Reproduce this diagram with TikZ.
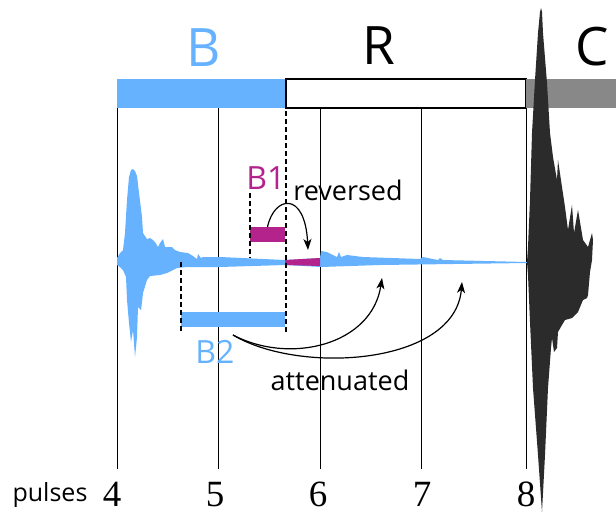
\documentclass[tikz,border=0pt]{standalone}
\usepackage{fontspec}
\setmainfont{Open Sans}
\newfontfamily\numfont{Liberation Serif}
\usetikzlibrary{arrows.meta}
\definecolor{bblue}{RGB}{102,178,255}
\definecolor{bmag}{RGB}{180,35,140}
\definecolor{cgray}{RGB}{136,136,136}
\definecolor{cdark}{RGB}{43,43,43}

\begin{document}
\begin{tikzpicture}[x=1pt, y=-1pt]
        \tikzstyle{bar} = [inner sep=0pt, outer sep=0pt, anchor=north west, minimum height=29pt]
        \tikzstyle{seg} = [inner sep=0pt, outer sep=0pt, anchor=north west, minimum height=15pt]
        \tikzstyle{big} = [font=\fontsize{53}{53}\selectfont, inner sep=0pt]
        \tikzstyle{sub} = [font=\fontsize{32}{32}\selectfont, inner sep=0pt]
        \tikzstyle{lbl} = [font=\fontsize{27}{27}\selectfont, inner sep=0pt]
        \tikzstyle{num} = [font=\numfont\fontsize{37}{37}\selectfont, anchor=base, inner sep=0pt]
        \tikzstyle{guide} = [dash pattern=on 5pt off 3pt, line width=1.2pt]
        \tikzstyle{curved} = [->, >={Stealth[length=11pt, width=8pt, inset=3pt]}, line width=1.2pt]
        \useasboundingbox (0,0) rectangle (616,515);
        % top bar
        \node[bar, fill=bblue, minimum width=169pt] (bbar) at (117,79) {};
        \node[bar, draw, line width=1.2pt, minimum width=240pt] (rbar) at (286,79) {};
        \node[bar, fill=cgray, minimum width=90pt] (cbar) at (526,79) {};
        \node[big, text=bblue] (blab) at (204,48) {B};
        \node[big] (rlab) at (379,46) {R};
        \node[big] (clab) at (592,47) {C};
        % pulse axis
        \node[lbl, font=\fontsize{25}{25}\selectfont] (pulses) at (50,495) {pulses};
        \node[num] (p4) at (112,506) {4};
        \node[num] (p5) at (215,506) {5};
        \node[num] (p6) at (318,506) {6};
        \node[num] (p7) at (422,506) {7};
        \node[num] (p8) at (526,506) {8};
        \coordinate (t4) at (117,469);
        \coordinate (t5) at (218,469);
        \coordinate (t6) at (320,469);
        \coordinate (t7) at (421,469);
        \coordinate (t8) at (526,469);
        \draw[line width=0.9pt] (t4 |- bbar.south) -- (t4);
        \draw[line width=0.9pt] (t5 |- bbar.south) -- (t5);
        \draw[line width=0.9pt] (t6 |- bbar.south) -- (t6);
        \draw[line width=0.9pt] (t7 |- bbar.south) -- (t7);
        \draw[line width=0.9pt] (t8 |- bbar.south) -- (t8);
        % waveforms
        \fill[bblue] (117,258) -- (120,253) -- (123,250) -- (125,233) -- (127,200) -- (129,177)
          -- (131,170) -- (133,169) -- (135,171) -- (137,176) -- (139,193) -- (142,217) -- (143,233)
          -- (147,239) -- (150,238) -- (153,240) -- (155,242) -- (158,247) -- (160,243) -- (163,239)
          -- (165,247) -- (168,247) -- (172,247) -- (175,250) -- (180,252) -- (188,253) -- (193,256)
          -- (197,259) -- (198,254) -- (201,258) -- (203,257) -- (208,257) -- (220,257) -- (285,260)
          -- (320,258) -- (321,251) -- (327,252) -- (333,255) -- (337,257) -- (339,252) -- (341,257)
          -- (347,255) -- (363,257) -- (420,259) -- (423,257) -- (428,258) -- (438,260) -- (440,258)
          -- (443,260) -- (527,262) -- (527,263) -- (380,265) -- (321,267) -- (285,265) -- (220,267)
          -- (200,267) -- (187,267) -- (177,268) -- (167,273) -- (160,275) -- (150,276) -- (147,280)
          -- (143,293) -- (142,302) -- (141,310) -- (138,307) -- (137,337) -- (135,357) -- (133,330)
          -- (131,342) -- (129,323) -- (127,300) -- (126,277) -- (123,270) -- (120,267) -- (117,265) -- cycle;
        \fill[bmag] (285,260) -- (320,258) -- (320,266) -- (285,265) -- cycle;
        \fill[cdark] (527,262) -- (528,247) -- (530,200) -- (532,133) -- (535,80) -- (538,33)
          -- (540,12) -- (541,8) -- (542,12) -- (543,33) -- (547,83) -- (550,133) -- (553,157)
          -- (557,180) -- (558,160) -- (562,187) -- (565,207) -- (568,230) -- (572,205) -- (574,233)
          -- (578,210) -- (583,240) -- (588,247) -- (592,233) -- (593,240) -- (592,260) -- (590,272)
          -- (588,295) -- (587,298) -- (583,300) -- (578,312) -- (572,318) -- (565,320) -- (562,325)
          -- (558,332) -- (557,348) -- (554,352) -- (552,338) -- (551,348) -- (548,388) -- (545,455)
          -- (542,512) -- (538,455) -- (533,388) -- (530,322) -- (528,275) -- cycle;
        % blocks
        \node[seg, fill=bmag, minimum width=35pt] (b1bar) at (250,227) {};
        \node[seg, fill=bblue, minimum width=104pt] (b2bar) at (181,312) {};
        \node[sub, text=bmag] (b1lab) at (266,178) {B1};
        \node[sub, text=bblue] (b2lab) at (215,352) {B2};
        \draw[guide] (bbar.north east) -- (bbar.east |- 0,333);
        \draw[guide] (b1bar.west |- 0,193) -- (b1bar.west |- 0,258);
        \draw[guide] (b2bar.west |- 0,262) -- (b2bar.west |- 0,333);
        % arrows
        \coordinate (revtip) at (308,250);
        \coordinate (att1) at (382,278);
        \coordinate (att2) at (462,282);
        \draw[curved] (b1bar.north) .. controls (274,196) and (305,190) .. (revtip);
        \draw[curved] ([yshift=-8pt]b2bar.south) .. controls (290,365) and (372,345) .. (att1);
        \draw[curved] ([yshift=-8pt]b2bar.south) .. controls (300,375) and (455,365) .. (att2);
        \node[lbl] (rev) at (348,190) {reversed};
        \node[lbl] (att) at (340,380) {attenuated};
\end{tikzpicture}
\end{document}
